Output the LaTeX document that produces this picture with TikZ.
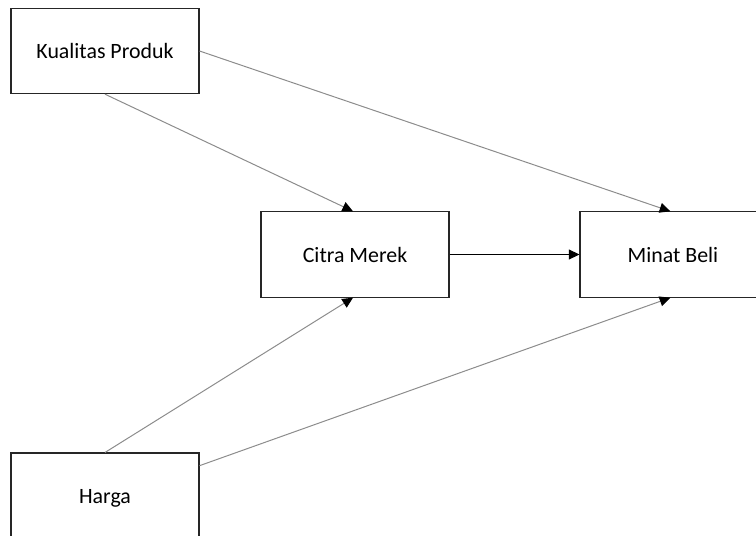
\documentclass[tikz,border=0pt]{standalone}
\usepackage{fontspec}
\setmainfont{Carlito}
\usetikzlibrary{arrows.meta,calc}
\begin{document}
\begin{tikzpicture}[x=0.75pt,y=-0.75pt,
  varbox/.style={draw=black!85,line width=0.8pt,fill=white,minimum width=141pt,
    minimum height=64pt,inner sep=0pt,font=\fontsize{16.4}{19}\selectfont},
  link/.style={draw=black!45,line width=0.75pt,
    -{Triangle[length=8pt,width=7.5pt,color=black]}},
  mainlink/.style={draw=black,line width=0.75pt,
    -{Triangle[length=8pt,width=7.5pt,color=black]}}]
  \useasboundingbox (0,0) rectangle (756,535);
  \begin{scope}
  \clip (0,0) rectangle (756,535);
  % variable boxes
  \node[varbox] (kualitas) at (105,51) {Kualitas Produk};
  \node[varbox] (citra) at (355,254.5) {Citra Merek};
  \node[varbox,minimum width=139.5pt] (minat) at (673,254.5) {Minat Beli};
  \node[varbox,minimum height=67.5pt] (harga) at (105,498) {Harga};
  % side point for the lower right link
  \coordinate (hargaside) at ($(harga.north east)!0.145!(harga.south east)$);
  % relationships
  \draw[link] (kualitas.south) -- ([xshift=-1.5pt]citra.north);
  \draw[link] (kualitas.east) -- ([xshift=-2pt]minat.north);
  \draw[mainlink] (citra.east) -- (minat.west);
  \draw[link] (harga.north) -- ([xshift=-1.5pt]citra.south);
  \draw[link] (hargaside) -- ([xshift=-2pt]minat.south);
  \end{scope}
\end{tikzpicture}
\end{document}
